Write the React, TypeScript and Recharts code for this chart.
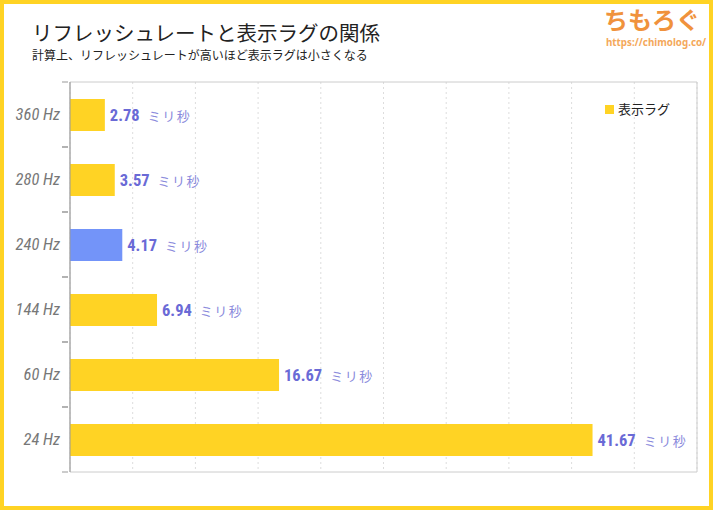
import { BarChart, Bar, XAxis, YAxis, CartesianGrid, Cell, LabelList, ReferenceArea } from 'recharts'

const CATEGORIES = ['360 Hz', '280 Hz', '240 Hz', '144 Hz', '60 Hz', '24 Hz']
const LAG_MS = [2.78, 3.57, 4.17, 6.94, 16.67, 41.67]
const GRID_TICKS = [0, 5, 10, 15, 20, 25, 30, 35, 40, 45, 50]
const HIGHLIGHT = '240 Hz'
const SERIES_NAME = '表示ラグ'

const YELLOW = '#FFD324'
const BLUE = '#7394F9'
const CONDENSED = "'Roboto Condensed', 'DejaVu Sans Condensed', 'Liberation Sans Narrow', sans-serif"
const JP = "'Noto Sans CJK JP', sans-serif"

const data = CATEGORIES.map((name, i) => ({ name, lag: LAG_MS[i] }))

// x axis ticks exist only to place the dashed grid
const EmptyTick = () => <g />

function HzTick(props: any) {
  const { x, y, payload } = props
  const half = payload?.offset ?? 32.5
  return (
    <g>
      <line x1={x} x2={x + 6} y1={y - half} y2={y - half} stroke="#999" />
      <line x1={x} x2={x + 6} y1={y + half} y2={y + half} stroke="#999" />
      <text x={x - 2} y={y} textAnchor="end" dominantBaseline="central"
        fontFamily={CONDENSED} fontStyle="italic" fontSize={16.5} fill="#777">
        {payload.value}
      </text>
    </g>
  )
}

function ValueLabel(props: any) {
  const { x, y, width, height, value } = props
  return (
    <text x={x + width + 5} y={y + height / 2} dominantBaseline="central">
      <tspan fontFamily={CONDENSED} fontWeight="bold" fontSize={16.5} fill="#6A6AD6">
        {value.toFixed(2)}
      </tspan>
      <tspan dx={8} fontFamily={JP} fontSize={13} letterSpacing={1.5} fill="#8A8ADC">
        ミリ秒
      </tspan>
    </text>
  )
}

export default function App() {
  return (
    <div style={{ position: 'absolute', left: 0, top: 0, width: 713, height: 510, background: '#fff', fontFamily: JP }}>
      <div style={{ position: 'absolute', left: 32, top: 21, fontSize: 20.5, color: '#222', lineHeight: '22px' }}>
        リフレッシュレートと表示ラグの関係
      </div>
      <div style={{ position: 'absolute', left: 32, top: 48, fontSize: 12, color: '#222', lineHeight: '13px' }}>
        計算上、リフレッシュレートが高いほど表示ラグは小さくなる
      </div>
      <div style={{ position: 'absolute', left: 604, top: 3, fontSize: 24, fontWeight: 'bold', color: '#F0923C', lineHeight: '32px' }}>
        ちもろぐ
      </div>
      <div style={{ position: 'absolute', left: 606, top: 36, fontSize: 9.8, fontWeight: 'bold', color: '#F4A85A', lineHeight: '13px', fontFamily: "'Noto Sans', sans-serif" }}>
        https://chimolog.co/
      </div>
      <BarChart width={713} height={510} data={data} layout="vertical"
        margin={{ top: 82, right: 16, bottom: 38, left: 0 }} barSize={32}>
        <CartesianGrid horizontal={false} stroke="#ddd" strokeDasharray="2 3" />
        <ReferenceArea x1={0} x2={50} fill="none" stroke="#ccc" strokeOpacity={1} fillOpacity={0} />
        <XAxis type="number" domain={[0, 50]} ticks={GRID_TICKS} tick={<EmptyTick />} tickLine={false}
          axisLine={{ stroke: '#999' }} height={0} />
        <YAxis type="category" dataKey="name" width={70} tickLine={false} axisLine={{ stroke: '#999' }}
          tick={<HzTick />} interval={0} />
        <Bar dataKey="lag" name={SERIES_NAME} fill={YELLOW} isAnimationActive={false}>
          {data.map((d) => (
            <Cell key={d.name} fill={d.name === HIGHLIGHT ? BLUE : YELLOW} />
          ))}
          <LabelList dataKey="lag" content={<ValueLabel />} />
        </Bar>
      </BarChart>
      <div style={{ position: 'absolute', left: 605, top: 100, display: 'flex', alignItems: 'center', fontSize: 13, color: '#222', lineHeight: '18px' }}>
        <span style={{ display: 'inline-block', width: 9, height: 9, background: YELLOW, marginRight: 4 }} />
        {SERIES_NAME}
      </div>
      <div style={{ position: 'absolute', inset: 0, border: '4px solid #FFD324', pointerEvents: 'none' }} />
    </div>
  )
}
